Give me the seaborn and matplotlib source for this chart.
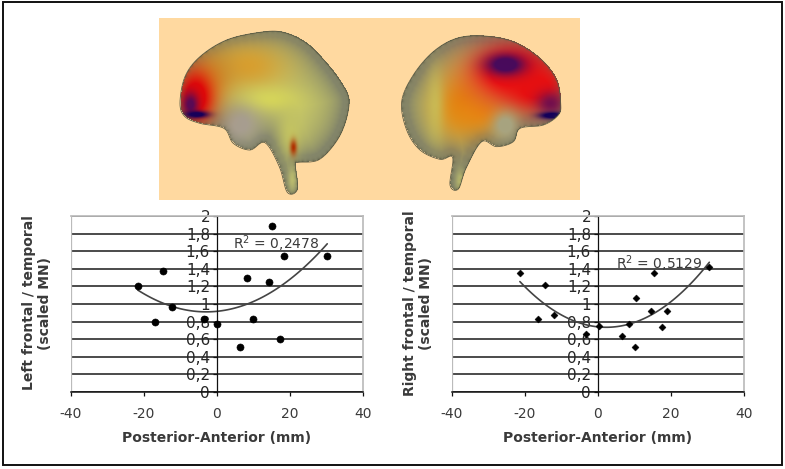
import numpy as np
import pandas as pd
import seaborn as sns
import matplotlib
matplotlib.use("Agg")
import matplotlib.pyplot as plt
from matplotlib.patches import Polygon, Rectangle
from matplotlib.path import Path

# ---------- data ----------
left_x = [-21.7, -14.9, -16.9, -12.4, -3.6, 0.0, 6.3, 8.2, 9.9, 14.3, 15.0, 17.2, 18.4, 30.2]
left_y = [1.20, 1.37, 0.80, 0.966, 0.83, 0.775, 0.51, 1.29, 0.826, 1.25, 1.887, 0.60, 1.54, 1.54]
right_x = [-21.4, -14.6, -16.4, -12.0, -3.3, 0.2, 6.7, 8.6, 10.0, 10.5, 14.5, 15.4, 17.6, 18.8, 30.5]
right_y = [1.347, 1.22, 0.83, 0.875, 0.66, 0.755, 0.64, 0.77, 0.517, 1.068, 0.925, 1.347, 0.736, 0.925, 1.426]
y_ticks = [0, 0.2, 0.4, 0.6, 0.8, 1, 1.2, 1.4, 1.6, 1.8, 2]
y_tick_labels = ["0", "0,2", "0,4", "0,6", "0,8", "1", "1,2", "1,4", "1,6", "1,8", "2"]
x_ticks = [-40, -20, 0, 20, 40]
left_r2 = "R$^2$ = 0,2478"
right_r2 = "R$^2$ = 0,5129"
left_label = "Left frontal / temporal\n(scaled MN)"
right_label = "Right frontal / temporal\n(scaled MN)"
x_label = "Posterior-Anterior (mm)"

W, H = 785, 469
sns.set_theme(style="white")
plt.rcParams["font.family"] = ["DejaVu Sans"]
fig = plt.figure(figsize=(W / 100, H / 100), dpi=100, facecolor="white")

# ---------- page layer in pixel coordinates ----------
bg = fig.add_axes([0, 0, 1, 1])
bg.set_xlim(0, W)
bg.set_ylim(H, 0)
bg.axis("off")
bg.add_patch(Rectangle((2.5, 2), 779.5, 463, fill=False, ec="#111111", lw=1.4))
bg.add_patch(Rectangle((159, 18), 421, 182, fc="#FFD9A0", ec="none"))

def zoomed(pts):
    return [(150 + a / 3, b / 3) for a, b in pts]

brain_l = zoomed([(90,310),(105,230),(150,170),(230,120),(330,97),(400,97),(470,130),(530,190),
                  (575,250),(597,300),(585,370),(555,430),(505,480),(445,487),(436,495),(442,568),
                  (412,577),(388,500),(345,428),(300,450),(250,430),(222,385),(150,370),(105,350)])
brain_r = zoomed([(1232,310),(1220,240),(1170,175),(1090,125),(1000,108),(920,115),(850,155),(790,225),
                  (755,305),(770,390),(810,450),(870,478),(908,472),(900,555),(925,567),(948,505),
                  (995,425),(1040,440),(1090,425),(1110,385),(1180,375),(1225,345)])

def smooth(pts, n=8):
    p = np.array(pts, float)
    out = []
    for i in range(len(p)):
        p0, p1, p2, p3 = p[i - 1], p[i], p[(i + 1) % len(p)], p[(i + 2) % len(p)]
        for t in np.linspace(0, 1, n, endpoint=False):
            out.append(0.5 * (2 * p1 + (p2 - p0) * t + (2 * p0 - 5 * p1 + 4 * p2 - p3) * t ** 2
                              + (3 * p1 - p0 - 3 * p2 + p3) * t ** 3))
    return np.array(out)

def c(h):
    return np.array(matplotlib.colors.to_rgb(h))

def paint(outline, blobs):
    xs, ys = np.meshgrid(np.arange(159, 580, 1.0), np.arange(18, 200, 1.0))
    inside = Path(outline).contains_points(np.c_[xs.ravel(), ys.ravel()]).reshape(xs.shape)
    d = np.full(xs.shape, 1e9)
    for q in outline[::2]:
        d = np.minimum(d, np.hypot(xs - q[0], ys - q[1]))
    img = np.ones(xs.shape + (3,)) * c("#CDCD68")
    rim = np.exp(-d / 22.0)[..., None] ** 1.0
    rim = np.clip(rim * 1.35, 0, 1)
    img = img * (1 - rim) + c("#84866A") * rim
    for cx, cy, sx, sy, col, amp in blobs:
        g = np.clip(amp * np.exp(-(((xs - cx) / sx) ** 2 + ((ys - cy) / sy) ** 2)), 0, 1)[..., None]
        img = img * (1 - g) + c(col) * g
    edge = np.exp(-d / 1.4)[..., None]
    img = img * (1 - 0.6 * edge) + c("#4F4F3A") * 0.6 * edge
    rgba = np.dstack([np.clip(img, 0, 1), np.where(inside, 1.0, 0.0)])
    bg.imshow(rgba, extent=(158.5, 579.5, 199.5, 17.5), interpolation="bilinear", zorder=2, aspect="auto")

paint(smooth(brain_l), [
    (248, 66, 38, 24, "#D8A030", 1.0),
    (215, 75, 22, 24, "#C88A28", 0.7),
    (268, 100, 30, 12, "#D8D858", 0.9),
    (290, 135, 12, 25, "#C8C860", 0.8),
    (240, 125, 20, 19, "#A79E90", 1.1),
    (200, 92, 22, 30, "#E07010", 0.8),
    (195, 98, 16, 24, "#E00808", 1.4),
    (190, 105, 8, 12, "#5A0A55", 1.1),
    (196, 115, 12, 3.5, "#18005A", 1.3),
    (293, 148, 3.5, 8, "#B03000", 1.0),
    (292, 180, 5, 14, "#C8C870", 0.8),
])
paint(smooth(brain_r), [
    (460, 105, 28, 35, "#E08A14", 1.0),
    (480, 115, 30, 18, "#E88A10", 0.9),
    (510, 72, 40, 28, "#F01010", 1.3),
    (535, 88, 32, 24, "#E81010", 1.2),
    (505, 65, 20, 11, "#480A5C", 1.3),
    (550, 104, 14, 12, "#6A0A50", 0.9),
    (552, 116, 13, 3.5, "#14005A", 1.4),
    (505, 126, 13, 14, "#A8A480", 1.2),
    (435, 105, 8, 35, "#C8C860", 0.6),
    (460, 182, 5, 12, "#C8C870", 0.8),
])
bg.add_patch(Polygon(smooth(brain_l), fill=False, ec="#5C5C45", lw=0.6, zorder=3))
bg.add_patch(Polygon(smooth(brain_r), fill=False, ec="#5C5C45", lw=0.6, zorder=3))
bg.set_xlim(0, W)
bg.set_ylim(H, 0)

# ---------- scatter panels ----------
TXT = "#3A3A3A"

def panel(x0, xs, ys, marker, msize, label, r2, r2_xy, lab_x):
    ax = fig.add_axes([x0 / W, 1 - 392 / H, 292 / W, 176 / H])
    df = pd.DataFrame({"x": xs, "y": ys})
    sns.regplot(data=df, x="x", y="y", order=2, ci=None, scatter=False, ax=ax,
                color="#444444", line_kws={"lw": 1.2}, truncate=True)
    sns.scatterplot(data=df, x="x", y="y", marker=marker, s=msize, color="black",
                    edgecolor="black", ax=ax, zorder=4, clip_on=False)
    ax.set_xlim(-40, 40)
    ax.set_ylim(0, 2)
    ax.set_yticks(y_ticks)
    ax.set_yticklabels(y_tick_labels, color=TXT, fontsize=10)
    ax.set_xticks(x_ticks)
    ax.set_xticklabels([str(t) for t in x_ticks], color=TXT, fontsize=10)
    ax.yaxis.grid(True, color="#1A1A1A", lw=1.1)
    ax.set_axisbelow(True)
    ax.spines["left"].set_position(("data", 0))
    ax.spines["left"].set_color("#111111")
    ax.spines["bottom"].set_color("#111111")
    ax.spines["left"].set_linewidth(0.9)
    ax.spines["bottom"].set_linewidth(1.1)
    ax.spines["top"].set_color("#BBBBBB")
    ax.spines["right"].set_color("#BBBBBB")
    ax.add_line(plt.Line2D([-40, -40], [0, 2], color="#BBBBBB", lw=0.9))
    ax.tick_params(axis="both", length=3, width=0.9, color="#111111", left=True, bottom=True, pad=2)
    ax.tick_params(axis="x", pad=8)
    ax.patch.set_alpha(0)
    ax.set_xlabel(x_label, fontsize=10, fontweight="bold", color=TXT, labelpad=7)
    ax.set_ylabel("")
    ax.text(r2_xy[0], r2_xy[1], r2, fontsize=10, color=TXT, va="center", zorder=5)
    bg.text(lab_x, 303, label, rotation=90, fontsize=10, fontweight="bold", color=TXT,
            ha="center", va="center", ma="center", linespacing=1.1)
    return ax

panel(71, left_x, left_y, "o", 26, left_label, left_r2, (4.5, 1.69), 37)
panel(452, right_x, right_y, "D", 13, right_label, right_r2, (5, 1.46), 418)

fig.savefig("out.png", dpi=100, facecolor="white")
